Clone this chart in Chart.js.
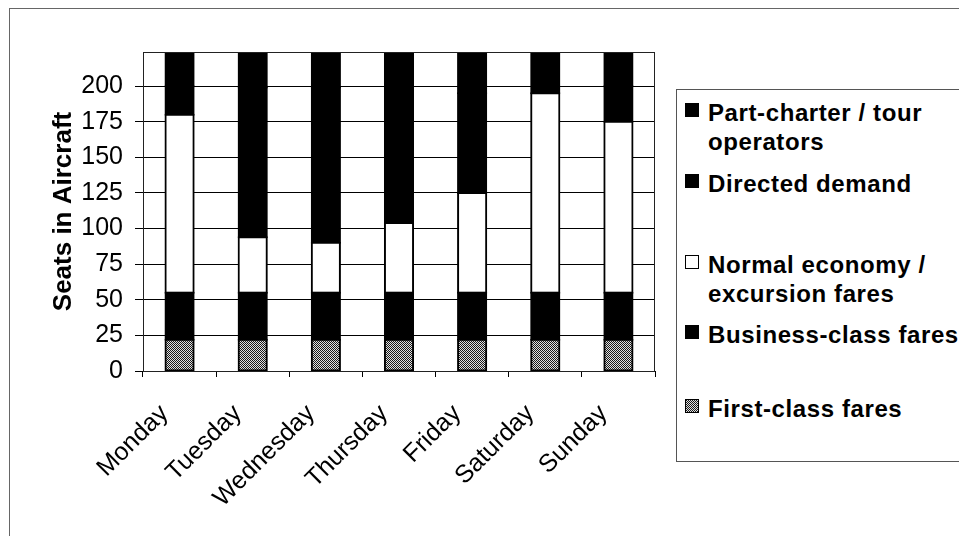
<!DOCTYPE html>
<html>
<head>
<meta charset="utf-8">
<title>Seats in Aircraft by day</title>
<script src="https://cdn.jsdelivr.net/npm/chart.js@4/dist/chart.umd.min.js"></script>
<style>
  html, body { margin: 0; padding: 0; background: #fff; overflow: hidden; }
  #wrap { position: relative; width: 959px; height: 536px; overflow: hidden;
          font-family: "Liberation Sans", Arial, sans-serif; color: #000; }
  #frame { position: absolute; left: 9px; top: 8px; right: -10px; bottom: -10px;
           border-top: 1px solid #666; border-left: 1px solid #666; }
  #chart { position: absolute; left: 0; top: 0; }
  #legend { position: absolute; left: 676px; top: 89px; width: 300px; height: 373px;
            border: 1px solid #555; box-sizing: border-box; background: #fff; }
  .item { position: absolute; left: 0; width: 298px; }
  .swatch { position: absolute; left: 8px; top: 5px; width: 14px; height: 14px;
            box-sizing: border-box; border: 1px solid #000; }
  .text { position: absolute; left: 31px; top: 0; width: 262px;
          font-weight: bold; font-size: 24px; line-height: 29px; letter-spacing: 0.6px; }
</style>
</head>
<body>
<div id="wrap">
  <div id="frame"></div>
  <canvas id="chart" width="959" height="536"></canvas>
  <div id="legend"></div>
</div>
<script>
// Days of the week along the x axis
const categories = ['Monday', 'Tuesday', 'Wednesday', 'Thursday', 'Friday', 'Saturday', 'Sunday'];

// Seats allocated to each fare group (stacked bottom to top)
const firstClass     = [22, 22, 22, 22, 22, 22, 22];
const businessClass  = [33, 33, 33, 33, 33, 33, 33];
const normalEconomy  = [125, 39, 35, 49, 70, 140, 120];
const directedDemand = [20, 105, 109, 95, 70, 0, 25];
const partCharter    = [24, 25, 25, 25, 29, 29, 24];

// Value axis
const yTickValues = [0, 25, 50, 75, 100, 125, 150, 175, 200];
const aircraftSeats = 224;

const FONT = '"Liberation Sans", Arial, sans-serif';
Chart.defaults.font.family = FONT;
Chart.defaults.color = '#000';

// Fine checkerboard fill used for first-class seats
const tile = document.createElement('canvas');
tile.width = 2; tile.height = 2;
const tctx = tile.getContext('2d');
tctx.fillStyle = '#e0e0e0'; tctx.fillRect(0, 0, 2, 2);
tctx.fillStyle = '#1a1a1a'; tctx.fillRect(0, 0, 1, 1); tctx.fillRect(1, 1, 1, 1);
const ctx = document.getElementById('chart').getContext('2d');
const checker = ctx.createPattern(tile, 'repeat');

const datasets = [
  { label: 'First-class fares',                 data: firstClass,     backgroundColor: checker, swatch: 'url(' + tile.toDataURL() + ')' },
  { label: 'Business-class fares',              data: businessClass,  backgroundColor: '#000000', swatch: '#000' },
  { label: 'Normal economy / excursion fares',  data: normalEconomy,  backgroundColor: '#ffffff', swatch: '#fff' },
  { label: 'Directed demand',                   data: directedDemand, backgroundColor: '#000000', swatch: '#000' },
  { label: 'Part-charter / tour operators',     data: partCharter,    backgroundColor: '#000000', swatch: '#000' }
];

// Thin frame around the plotting area
const plotFrame = {
  id: 'plotFrame',
  afterDatasetsDraw(chart) {
    const a = chart.chartArea, c = chart.ctx;
    c.save();
    c.strokeStyle = '#222';
    c.lineWidth = 1;
    c.strokeRect(Math.round(a.left) + 0.5, Math.round(a.top) + 0.5,
                 Math.round(a.right - a.left) - 1, Math.round(a.bottom - a.top));
    c.restore();
  }
};

new Chart(ctx, {
  type: 'bar',
  data: { labels: categories, datasets: datasets.map(d => ({
    label: d.label, data: d.data, backgroundColor: d.backgroundColor
  })) },
  options: {
    responsive: false,
    animation: false,
    layout: { padding: { left: 48, right: 304, top: 52, bottom: 0 } },
    plugins: { legend: { display: false }, tooltip: { enabled: false } },
    datasets: {
      bar: {
        barPercentage: 0.385,
        categoryPercentage: 1,
        borderColor: '#000',
        borderWidth: 2,
        borderSkipped: false,
        inflateAmount: 1
      }
    },
    scales: {
      x: {
        stacked: true,
        grid: { display: true, drawOnChartArea: false, offset: true, tickLength: 6, color: '#000' },
        border: { display: true, color: '#000' },
        ticks: { font: { size: 25 }, color: '#000', minRotation: 45, maxRotation: 45,
                 padding: 22, labelOffset: -15, autoSkip: false },
        afterFit(scale) { scale.height = 165; }
      },
      y: {
        stacked: true,
        min: 0,
        max: aircraftSeats,
        afterBuildTicks(scale) { scale.ticks = yTickValues.map(v => ({ value: v })); },
        ticks: { font: { size: 25 }, color: '#000', padding: 12 },
        grid: { color: '#000', lineWidth: 1, tickLength: 8 },
        border: { display: true, color: '#000' },
        title: {
          display: true, text: 'Seats in Aircraft', color: '#000',
          font: { size: 26, weight: 'bold' }, padding: { top: 0, bottom: 0 }
        },
        afterFit(scale) { scale.width = 95; }
      }
    }
  },
  plugins: [plotFrame]
});

// Legend box, top entry is the top of the stack
const rowTops = [7.5, 78.5, 159.5, 229.5, 303.5];
const legend = document.getElementById('legend');
datasets.slice().reverse().forEach((d, i) => {
  const item = document.createElement('div');
  item.className = 'item';
  item.style.top = rowTops[i] + 'px';
  const sw = document.createElement('div');
  sw.className = 'swatch';
  if (d.swatch.startsWith('url')) sw.style.backgroundImage = d.swatch; else sw.style.background = d.swatch;
  const tx = document.createElement('div');
  tx.className = 'text';
  tx.textContent = d.label;
  item.appendChild(sw);
  item.appendChild(tx);
  legend.appendChild(item);
});
</script>
</body>
</html>
